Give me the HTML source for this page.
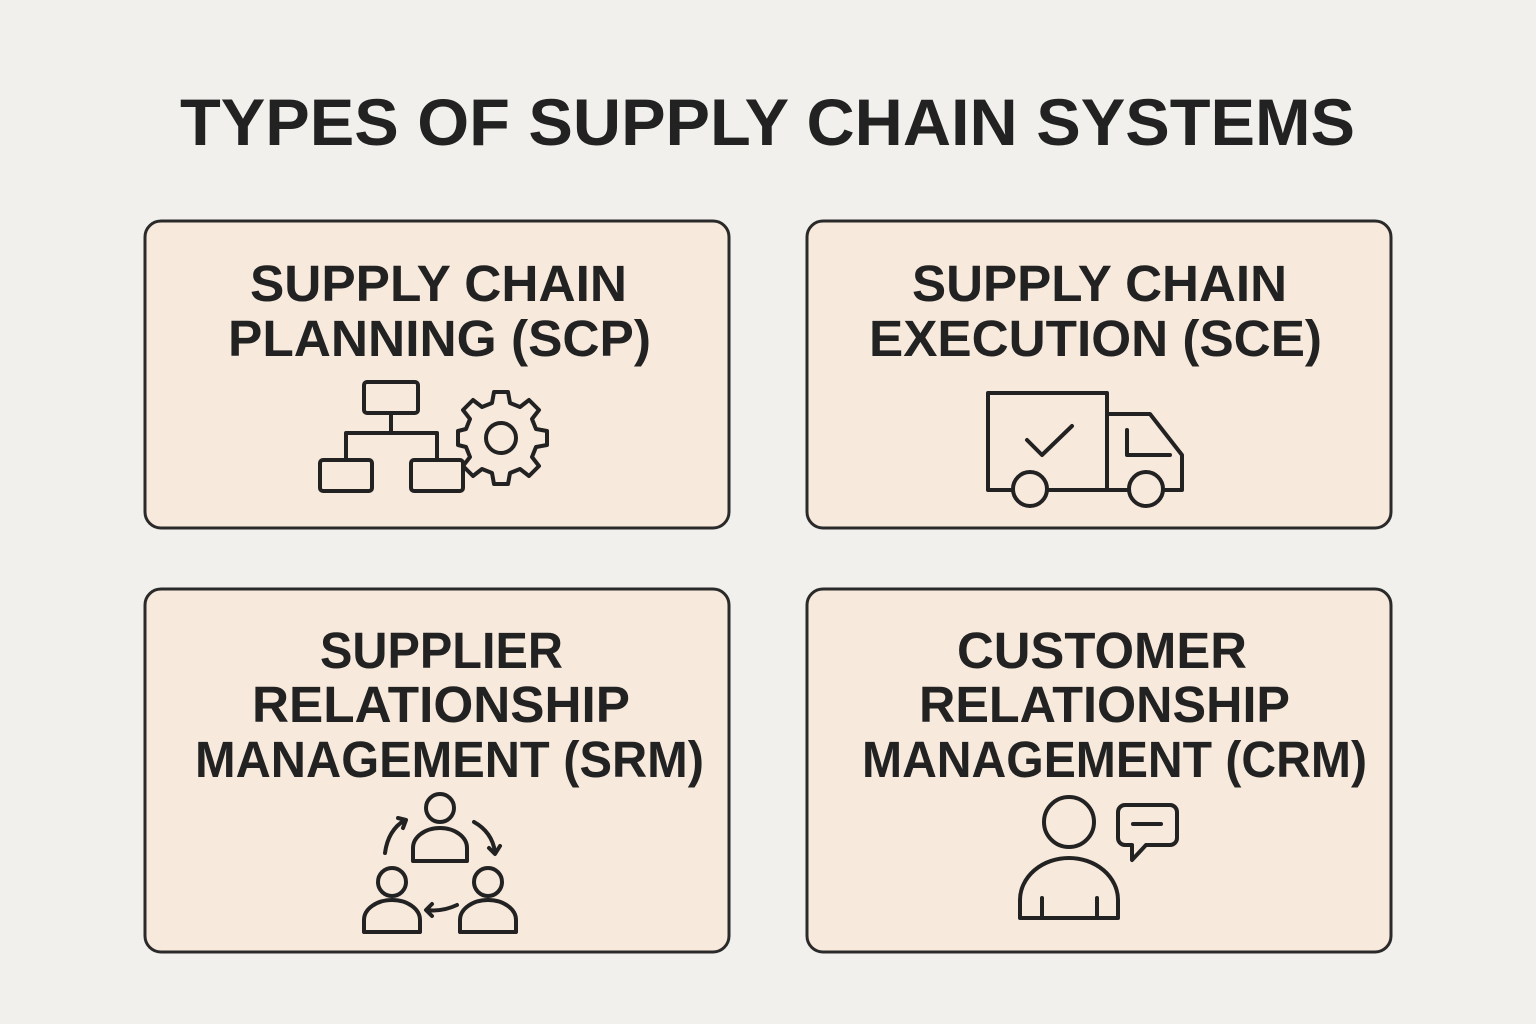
<!DOCTYPE html>
<html><head><meta charset="utf-8"><style>
html,body{margin:0;padding:0;background:#f2f0ec;}
svg{display:block}
text{font-family:"Liberation Sans",sans-serif;font-weight:bold;fill:#222;}
</style></head><body>
<svg width="1536" height="1024" viewBox="0 0 1536 1024" xmlns="http://www.w3.org/2000/svg">
<rect width="1536" height="1024" fill="#f2f0ec"/>
<text x="180" y="145" font-size="66" textLength="1175" lengthAdjust="spacingAndGlyphs">TYPES OF SUPPLY CHAIN SYSTEMS</text>
<g fill="#f7e9dc" stroke="#2a2a2a" stroke-width="3">
<rect x="145" y="221" width="584" height="307" rx="16"/>
<rect x="807" y="221" width="584" height="307" rx="16"/>
<rect x="145" y="589" width="584" height="363" rx="16"/>
<rect x="807" y="589" width="584" height="363" rx="16"/>
</g>
<g font-size="51">
<text x="250" y="301" textLength="377" lengthAdjust="spacingAndGlyphs">SUPPLY CHAIN</text>
<text x="228" y="356" textLength="423" lengthAdjust="spacingAndGlyphs">PLANNING (SCP)</text>
<text x="912" y="301" textLength="375" lengthAdjust="spacingAndGlyphs">SUPPLY CHAIN</text>
<text x="869" y="356" textLength="453" lengthAdjust="spacingAndGlyphs">EXECUTION (SCE)</text>
<text x="320" y="668" textLength="243" lengthAdjust="spacingAndGlyphs">SUPPLIER</text>
<text x="252" y="722" textLength="378" lengthAdjust="spacingAndGlyphs">RELATIONSHIP</text>
<text x="195" y="777" textLength="509" lengthAdjust="spacingAndGlyphs">MANAGEMENT (SRM)</text>
<text x="957" y="668" textLength="290" lengthAdjust="spacingAndGlyphs">CUSTOMER</text>
<text x="919" y="722" textLength="371" lengthAdjust="spacingAndGlyphs">RELATIONSHIP</text>
<text x="862" y="777" textLength="505" lengthAdjust="spacingAndGlyphs">MANAGEMENT (CRM)</text>
</g>
<g fill="none" stroke="#222" stroke-width="4" stroke-linecap="round" stroke-linejoin="round">
<!-- SCP -->
<rect x="364" y="382" width="54" height="31" rx="3"/>
<path d="M391 413V433M346 433H437M346 433V460M437 433V460"/>
<rect x="320" y="460" width="52" height="31" rx="3"/>
<rect x="411" y="460" width="52" height="31" rx="3"/>
<path d="M494 392 L508 392 L510 403 L520 407 L529 400 L539 410 L532 419 L536 429 L547 431 L547 445 L536 447 L532 457 L539 466 L529 476 L520 469 L510 473 L508 484 L494 484 L492 473 L482 469 L473 476 L463 466 L470 457 L466 447 L458 445 L458 431 L466 429 L470 419 L463 410 L473 400 L482 407 L492 403 Z"/>
<circle cx="501" cy="438" r="15"/>
<!-- SCE -->
<path d="M988 393H1107V490H988Z"/>
<path d="M1107 414H1150L1182 455V490H1107"/>
<path d="M1127 430V455H1170"/>
<circle cx="1030" cy="489" r="17" fill="#f7e9dc"/>
<circle cx="1146" cy="489" r="17" fill="#f7e9dc"/>
<path d="M1027 440L1042 455L1072 426"/>
<!-- SRM -->
<circle cx="440" cy="808" r="14"/>
<path d="M413 861V848a27 20 0 0 1 54 0V861Z"/>
<circle cx="392" cy="882" r="14"/>
<path d="M364 932V920a28 20 0 0 1 56 0V932Z"/>
<circle cx="488" cy="882" r="14"/>
<path d="M460 932V920a28 20 0 0 1 56 0V932Z"/>
<path d="M385 853 Q388 830 405 820 M398 818L406 820L403 828"/>
<path d="M474 822 Q492 832 495 852 M489 848L495 854L500 846"/>
<path d="M457 905 Q442 912 427 910 M432 904L426 910L432 916"/>
<!-- CRM -->
<circle cx="1069" cy="822" r="25"/>
<path d="M1020 918V900a49 42 0 0 1 98 0V918Z"/>
<path d="M1042 898V918M1097 898V918"/>
<path d="M1125 805H1170a7 7 0 0 1 7 7V838a7 7 0 0 1-7 7H1146L1132 860V845H1125a7 7 0 0 1-7-7V812a7 7 0 0 1 7-7Z"/>
<path d="M1133 824H1161"/>
</g>
</svg>
</body></html>
